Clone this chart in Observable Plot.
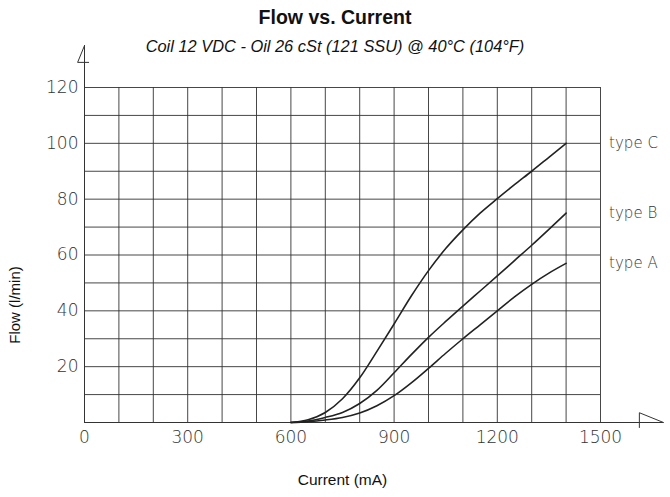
<!DOCTYPE html>
<html>
<head>
<meta charset="utf-8">
<script src="https://cdn.jsdelivr.net/npm/d3@7"></script>
<script src="https://cdn.jsdelivr.net/npm/@observablehq/plot@0.6"></script>
<style>
  body { margin: 0; background: #fff; }
  #wrap { position: relative; width: 670px; height: 497px; }
  #wrap svg { position: absolute; left: 0; top: 0; }
  .title { position: absolute; left: 0; width: 670px; text-align: center; font-family: "Liberation Sans", Arial, sans-serif; color: #111; z-index: 2; line-height: 1; }
  #t1 { top: 8px; font-size: 19.5px; font-weight: bold; }
  #t2 { top: 38px; font-size: 16.4px; font-style: italic; }
</style>
</head>
<body>
<div id="wrap">
  <div class="title" id="t1">Flow vs. Current</div>
  <div class="title" id="t2">Coil 12 VDC - Oil 26 cSt (121 SSU) @ 40°C (104°F)</div>
</div>
<script>
// ---- data ----
const current = [600, 650, 700, 750, 800, 850, 900, 950, 1000, 1050, 1100, 1150, 1200, 1250, 1300, 1350, 1400];
const typeA   = [0, 0.3, 0.9, 1.8, 3.4, 6, 9.6, 14.2, 19.4, 24.8, 30, 35, 40, 45, 49.5, 53.5, 57];
const typeB   = [0, 0.5, 1.8, 3.6, 6.8, 11.5, 17.8, 24.3, 30.5, 36.2, 41.7, 47.1, 52.5, 58, 63.5, 69.2, 75];
const typeC   = [0, 1, 3.6, 8.5, 16, 25.5, 35.3, 45.3, 54.4, 62.3, 69, 75, 80.2, 85.2, 90, 95, 100];
const seriesNames = ["type A", "type B", "type C"];
const seriesValues = [typeA, typeB, typeC];
const xTicks = [0, 300, 600, 900, 1200, 1500];
const yTicks = [20, 40, 60, 80, 100, 120];
const xGrid = [0, 100, 200, 300, 400, 500, 600, 700, 800, 900, 1000, 1100, 1200, 1300, 1400, 1500];
const yGrid = [0, 10, 20, 30, 40, 50, 60, 70, 80, 90, 100, 110, 120];
const xAxisEnd = 1683;   // x axis drawn beyond the grid (mA)
const yAxisEnd = 135;    // y axis drawn above the grid (l/min)

// ---- build ----
const rows = [];
seriesNames.forEach((name, i) => current.forEach((c, j) => rows.push({series: name, current: c, flow: seriesValues[i][j]})));
const ends = seriesNames.map((name, i) => ({series: name, current: current[current.length - 1], flow: seriesValues[i][seriesValues[i].length - 1]}));

const tickFont = {fontFamily: "DejaVu Sans", fontWeight: 200};
const labelFont = "Liberation Sans, Arial, sans-serif";
const ink = "#333";

// arrow heads, relative to axis ends
const topArrow = [
  {x: 0, y: yAxisEnd}, {x: -20, y: yAxisEnd - 6}, {x: 12, y: yAxisEnd - 6}
];
const rightArrow = [
  {x: xAxisEnd - 70, y: -1.8}, {x: xAxisEnd - 70, y: 3.5}, {x: xAxisEnd, y: 0}
];

const chart = Plot.plot({
  width: 670,
  height: 497,
  marginLeft: 84,
  marginRight: 70,
  marginTop: 87,
  marginBottom: 75,
  x: {domain: [0, 1500], axis: null},
  y: {domain: [0, 120], axis: null},
  style: {background: "transparent", overflow: "visible"},
  marks: [
    Plot.ruleX(xGrid, {y1: 0, y2: 120, stroke: ink, strokeWidth: 1, strokeOpacity: 0.9}),
    Plot.ruleY(yGrid, {x1: 0, x2: 1500, stroke: ink, strokeWidth: 1, strokeOpacity: 0.9}),
    Plot.ruleY([0], {x1: 0, x2: xAxisEnd, stroke: ink}),
    Plot.ruleX([0], {y1: 0, y2: yAxisEnd, stroke: ink}),
    Plot.line(topArrow, {x: "x", y: "y", stroke: ink, strokeWidth: 1}),
    Plot.line(rightArrow, {x: "x", y: "y", stroke: ink, strokeWidth: 1}),
    Plot.line(rows, {x: "current", y: "flow", z: "series", curve: "monotone-x", stroke: "#222", strokeWidth: 1.6}),
    Plot.text(ends, {x: 1525, y: "flow", text: "series", textAnchor: "start", fontSize: 15, fill: "#333", ...tickFont}),
    Plot.text(xTicks, {x: d => d, y: 0, text: d => String(d), dy: 15, fontSize: 17, fill: "#333", ...tickFont}),
    Plot.text(yTicks, {x: 0, y: d => d, text: d => String(d), dx: -6, textAnchor: "end", fontSize: 17, fill: "#333", ...tickFont}),
    Plot.text(["Current (mA)"], {frameAnchor: "bottom", textAnchor: "middle", dy: 62, fontSize: 15.5, fill: "#111", fontFamily: labelFont}),
    Plot.text(["Flow (l/min)"], {frameAnchor: "left", textAnchor: "middle", rotate: -90, dx: -69, dy: 50, fontSize: 15, fill: "#111", fontFamily: labelFont})
  ]
});
document.getElementById("wrap").appendChild(chart);
</script>
</body>
</html>
